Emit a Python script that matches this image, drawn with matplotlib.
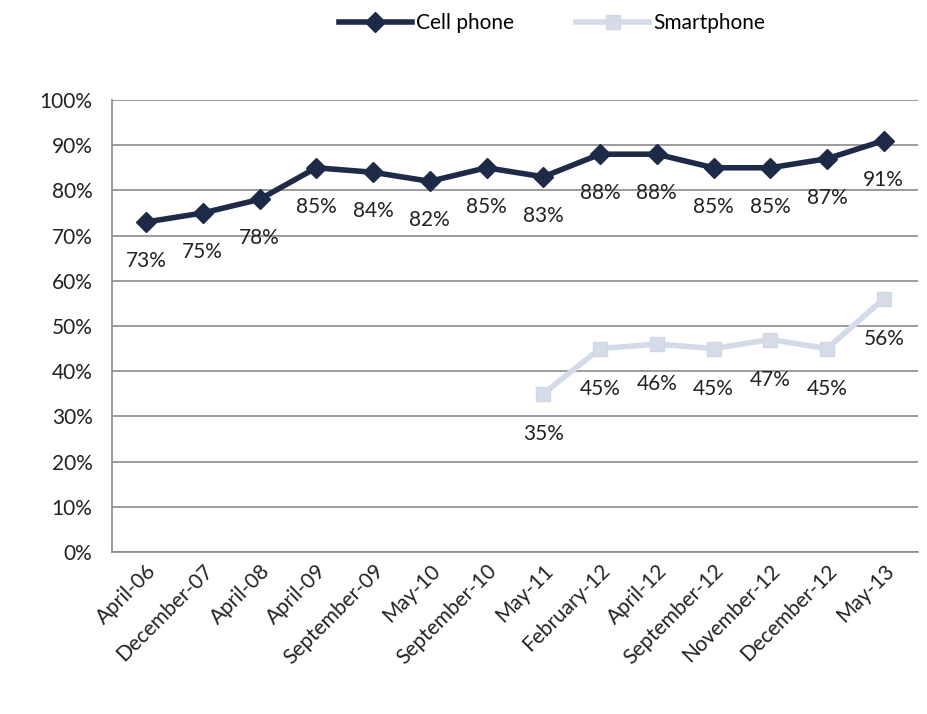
import matplotlib.pyplot as plt

plt.rcParams['font.family'] = ['Lato', 'DejaVu Sans']

# data
dates = ['April-06', 'December-07', 'April-08', 'April-09', 'September-09', 'May-10',
         'September-10', 'May-11', 'February-12', 'April-12', 'September-12',
         'November-12', 'December-12', 'May-13']
cell_phone = [73, 75, 78, 85, 84, 82, 85, 83, 88, 88, 85, 85, 87, 91]
smart_idx = [7, 8, 9, 10, 11, 12, 13]
smartphone = [35, 45, 46, 45, 47, 45, 56]

fs = 15

fig = plt.figure(figsize=(9.28, 7.14), dpi=100)
ax = fig.add_axes([0.1207, 0.2269, 0.8683, 0.6331])

x = list(range(len(dates)))
ax.plot(smart_idx, smartphone, color='#d3dbe8', lw=4, marker='s', ms=10,
        mec='#d0d8e6', mfc='#d5dce8', label='Smartphone', zorder=2)
ax.plot(x, cell_phone, color='#1e2b48', lw=4, marker='D', ms=10,
        mec='#1e2b48', mfc='#1e2b48', label='Cell phone', zorder=3)

# data labels below the points
for xi, v in zip(x, cell_phone):
    ax.annotate(f'{v}%', (xi, v), xytext=(0, -28), textcoords='offset points',
                ha='center', va='center', fontsize=fs, color='#222222')
for xi, v in zip(smart_idx, smartphone):
    ax.annotate(f'{v}%', (xi, v), xytext=(0, -29), textcoords='offset points',
                ha='center', va='center', fontsize=fs, color='#222222')

ax.set_xlim(-0.6, len(dates) - 0.4)
ax.set_ylim(0, 100)
ax.set_yticks(range(0, 101, 10))
ax.set_yticklabels([f'{t}%' for t in range(0, 101, 10)], fontsize=fs, color='#222222')
ax.set_xticks(x)
ax.set_xticklabels(dates, rotation=45, ha='right', rotation_mode='anchor',
                   fontsize=fs, color='#222222')
ax.tick_params(length=0, pad=14)
ax.tick_params(axis='x', pad=6)

ax.grid(axis='y', color='#8a8a8a', lw=1.2)
ax.set_axisbelow(True)
for s in ['top', 'right']:
    ax.spines[s].set_visible(False)
for s in ['left', 'bottom']:
    ax.spines[s].set_color('#8a8a8a')
    ax.spines[s].set_linewidth(1.2)

handles, labels = ax.get_legend_handles_labels()
fig.legend(handles[::-1], labels[::-1], loc='center', bbox_to_anchor=(0.595, 0.968),
           ncol=2, frameon=False, fontsize=fs, handlelength=3.5,
           handletextpad=0.2, columnspacing=3)

fig.savefig('out.png', dpi=100)
